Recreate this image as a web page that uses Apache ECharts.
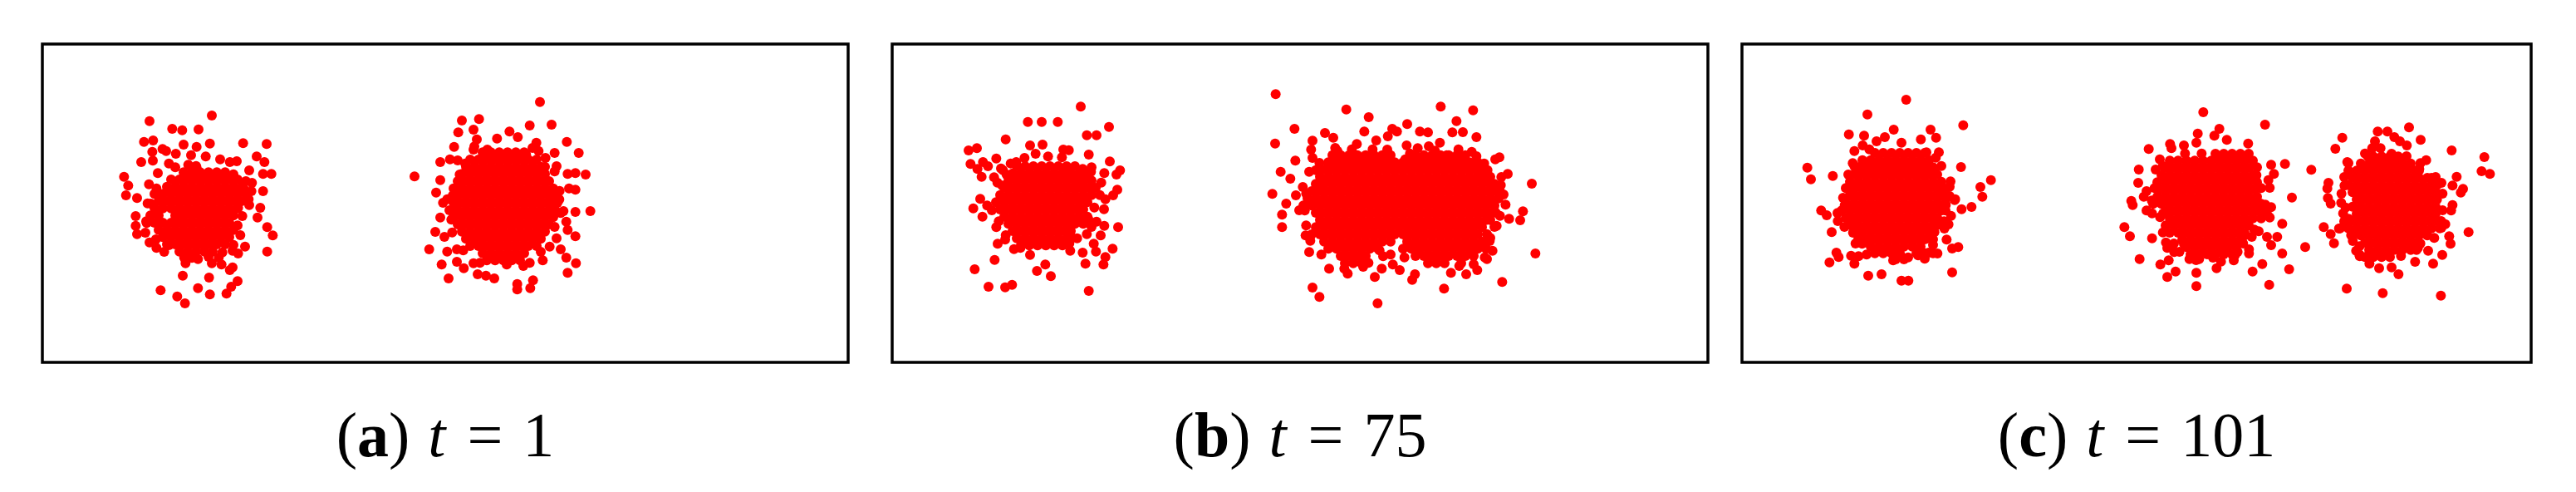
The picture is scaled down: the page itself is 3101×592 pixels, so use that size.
<!DOCTYPE html>
<html><head><meta charset="utf-8">
<script src="https://cdn.jsdelivr.net/npm/echarts@6/dist/echarts.min.js"></script>
<style>html,body{margin:0;padding:0;background:#fff}#c{width:3101px;height:592px}</style>
</head><body><div id="c"></div>
<script>
// Panel captions
const panelLabels = ['a', 'b', 'c'];
const panelTimes = ['1', '75', '101'];

// Point clouds (x to the right, y downwards; 3 units per pixel of each panel)
const aLeft = [
[612,258],[387,278],[469,306],[505,311],[564,308],[367,353],[400,348],[510,363],[605,359],[725,358],[810,361],[557,371],[434,379],[397,389],[447,386],[482,396],[537,401],[590,406],[774,406],[802,426],[357,426],[399,421],[457,431],[642,416],[677,426],[702,423],[527,436],[557,446],[747,456],[797,469],[827,469],[295,479],[417,466],[310,511],[385,506],[412,521],[757,501],[797,531],[302,546],[342,556],[755,531],[727,521],[392,576],[337,621],[707,591],[747,581],[787,591],[337,656],[377,646],[722,621],[777,626],[342,686],[372,681],[812,661],[832,691],[387,716],[412,736],[457,726],[732,731],[812,749],[687,746],[707,756],[512,771],[517,791],[562,776],[612,791],[637,771],[647,796],[677,816],[687,806],[507,836],[602,843],[705,856],[682,876],[427,889],[562,881],[487,911],[515,936],[605,904],[665,901],
[480,445],[555,440],[690,470],[735,495],[380,575],[745,560],[375,640],[705,655],[715,690],[410,705],[690,725],[440,750],[650,752],[540,772],[600,768],
[510,463],[540,463],[570,463],[600,463],[630,463],[660,463],
[465,489],[495,489],[525,489],[555,489],[585,489],[615,489],[645,489],[675,489],[705,489],
[450,515],[480,515],[510,515],[540,515],[570,515],[600,515],[630,515],[660,515],[690,515],[720,515],
[405,541],[435,541],[465,541],[495,541],[525,541],[555,541],[585,541],[615,541],[645,541],[675,541],[705,541],[735,541],
[420,567],[450,567],[480,567],[510,567],[540,567],[570,567],[600,567],[630,567],[660,567],[690,567],[720,567],
[405,593],[435,593],[465,593],[495,593],[525,593],[555,593],[585,593],[615,593],[645,593],[675,593],[705,593],
[390,619],[420,619],[480,619],[510,619],[540,619],[570,619],[600,619],[630,619],[660,619],[690,619],
[405,645],[435,645],[465,645],[495,645],[525,645],[555,645],[585,645],[615,645],[645,645],[675,645],
[420,671],[450,671],[480,671],[510,671],[540,671],[570,671],[600,671],[630,671],[660,671],[690,671],
[435,697],[465,697],[495,697],[525,697],[555,697],[585,697],[615,697],[645,697],[675,697],
[450,723],[480,723],[510,723],[540,723],[570,723],[600,723],[630,723],[660,723],
[495,749],[525,749],[555,749],[585,749],[615,749]
];
const aRight = [
[1797,209],[1515,276],[1577,271],[1502,319],[1557,309],[1569,344],[1760,294],[1839,291],[1894,353],[1937,393],[1487,371],[1437,426],[1472,416],[1344,478],[1850,393],[1784,356],[1792,386],[1962,471],[1925,466],[1897,469],[1902,521],[1925,526],[1979,603],[1925,606],[1882,603],[1437,491],[1422,536],[1447,573],[1437,626],[1477,634],[1419,678],[1452,696],[1397,741],[1462,749],[1442,796],[1497,786],[1522,809],[1467,846],[1572,831],[1602,836],[1632,846],[1715,866],[1715,886],[1772,853],[1762,881],[1897,826],[1927,791],[1892,771],[1872,741],[1892,641],[1897,671],[1925,694],[1832,731],[1497,741],[1687,316],[1717,336],[1642,341],[1557,381],[1607,381],[1507,471],[1527,431],[1747,399],[1817,411],[1857,441],[1867,561],[1857,701],[1807,781],[1737,801],[1677,796],[1557,791],
[1560,370],[1770,375],[1500,420],[1850,460],[1868,530],[1470,600],[1872,610],[1462,560],[1480,680],[1850,660],[1520,745],[1800,750],[1580,790],[1760,790],
[1590,391],[1620,391],[1650,391],[1680,391],[1710,391],[1740,391],
[1545,417],[1575,417],[1605,417],[1635,417],[1665,417],[1695,417],[1725,417],[1755,417],[1785,417],
[1530,443],[1560,443],[1590,443],[1620,443],[1650,443],[1680,443],[1710,443],[1740,443],[1770,443],[1800,443],[1815,443],
[1515,469],[1545,469],[1575,469],[1605,469],[1635,469],[1665,469],[1695,469],[1725,469],[1755,469],[1785,469],[1815,469],
[1500,495],[1530,495],[1560,495],[1590,495],[1620,495],[1650,495],[1680,495],[1710,495],[1740,495],[1770,495],[1800,495],[1830,495],
[1485,521],[1515,521],[1545,521],[1575,521],[1605,521],[1635,521],[1665,521],[1695,521],[1725,521],[1755,521],[1785,521],[1815,521],[1845,521],
[1482,547],[1500,547],[1530,547],[1560,547],[1590,547],[1620,547],[1650,547],[1680,547],[1710,547],[1740,547],[1770,547],[1800,547],[1830,547],[1852,547],
[1485,573],[1515,573],[1545,573],[1575,573],[1605,573],[1635,573],[1665,573],[1695,573],[1725,573],[1755,573],[1785,573],[1815,573],[1845,573],[1860,573],
[1482,599],[1500,599],[1530,599],[1560,599],[1590,599],[1620,599],[1650,599],[1680,599],[1710,599],[1740,599],[1770,599],[1800,599],[1830,599],[1852,599],
[1485,625],[1515,625],[1545,625],[1575,625],[1605,625],[1635,625],[1665,625],[1695,625],[1725,625],[1755,625],[1785,625],[1815,625],[1845,625],
[1500,651],[1530,651],[1560,651],[1590,651],[1620,651],[1650,651],[1680,651],[1710,651],[1740,651],[1770,651],[1800,651],[1830,651],
[1515,677],[1545,677],[1575,677],[1605,677],[1635,677],[1665,677],[1695,677],[1725,677],[1755,677],[1785,677],[1815,677],
[1530,703],[1560,703],[1590,703],[1620,703],[1650,703],[1680,703],[1710,703],[1740,703],[1770,703],[1800,703],
[1545,729],[1575,729],[1605,729],[1635,729],[1665,729],[1695,729],[1725,729],[1755,729],[1785,729],
[1590,755],[1620,755],[1650,755],[1680,755],[1710,755],[1740,755],
[1605,781],[1635,781],[1665,781],[1695,781],[1725,781]
];
const bLeft = [
[681,226],[490,281],[540,281],[598,281],[783,299],[703,329],[738,329],[410,344],[498,366],[543,363],[618,381],[638,383],[710,399],[276,384],[306,376],[376,413],[786,424],[283,433],[328,426],[346,441],[308,451],[323,479],[393,449],[368,481],[823,456],[810,471],[766,466],[718,461],[688,451],[318,559],[293,593],[343,583],[326,623],[376,661],[816,661],[765,596],[798,546],[813,526],[381,721],[408,706],[370,779],[298,813],[348,876],[408,878],[433,869],[523,819],[553,796],[573,838],[710,891],[763,796],[770,769],[796,739],[736,749],[688,753],[698,793],[643,746],[498,761],[463,736],[728,721],[753,691],[703,686],[668,701],[708,631],[738,641],[766,656],[428,431],[448,426],[478,411],[518,396],[563,406],[613,409],[633,459],[668,491],[413,471],[398,511],
[400,455],[720,445],[380,500],[755,500],[770,560],[360,600],[730,590],[385,640],[720,660],[410,690],[650,700],[440,740],[640,720],
[450,441],[480,441],[510,441],[540,441],[570,441],[600,441],[630,441],[660,441],
[435,467],[465,467],[495,467],[525,467],[555,467],[585,467],[615,467],[645,467],[675,467],[705,467],
[420,493],[450,493],[480,493],[510,493],[540,493],[570,493],[600,493],[630,493],[660,493],[690,493],[720,493],
[405,519],[435,519],[465,519],[495,519],[525,519],[555,519],[585,519],[615,519],[645,519],[675,519],[705,519],[735,519],
[390,545],[420,545],[450,545],[480,545],[510,545],[540,545],[570,545],[600,545],[630,545],[660,545],[690,545],[720,545],[750,545],
[375,571],[405,571],[435,571],[465,571],[495,571],[525,571],[555,571],[585,571],[615,571],[645,571],[675,571],[705,571],
[390,597],[420,597],[450,597],[480,597],[510,597],[540,597],[570,597],[600,597],[630,597],[660,597],[690,597],
[405,623],[435,623],[465,623],[495,623],[525,623],[555,623],[585,623],[615,623],[645,623],[675,623],[705,623],
[420,649],[450,649],[480,649],[510,649],[540,649],[570,649],[600,649],[630,649],[660,649],[690,649],
[435,675],[465,675],[495,675],[525,675],[555,675],[585,675],[615,675],[645,675],
[450,701],[480,701],[510,701],[540,701],[570,701],[600,701],[630,701],
[465,727],[495,727],[525,727],[555,727],[585,727],[615,727]
];
const bRight = [
[1385,181],[1640,236],[1721,264],[1981,226],[2098,239],[2038,278],[1860,289],[1806,306],[1823,316],[1906,316],[1935,319],[2023,319],[2061,318],[2110,336],[1453,306],[1563,321],[1593,338],[1705,316],[1748,348],[1790,333],[1678,361],[1858,366],[1383,359],[1518,349],[1513,381],[1608,386],[1518,411],[1543,429],[1456,421],[2093,389],[2193,409],[2178,416],[1403,461],[1506,461],[1438,486],[1483,516],[1536,509],[1373,541],[1458,546],[1423,576],[1408,616],[1490,601],[1408,661],[2310,504],[2223,469],[2198,509],[2208,543],[2278,604],[2268,636],[2228,631],[2183,656],[2148,686],[2158,711],[2168,746],[2148,776],[2113,816],[2073,831],[2048,801],[2018,826],[2203,859],[1993,883],[2323,756],[1878,851],[1888,831],[1833,816],[1808,796],[1768,811],[1743,841],[1773,766],[1701,804],[1645,829],[1633,811],[1578,811],[1506,751],[1493,691],[1518,879],[1543,913],[1753,936],[1818,431],[1788,381],[1853,416],[1898,376],[1938,369],[1978,356],[2003,401],[2068,441],[2138,431],[2118,461],
[1600,375],[1660,380],[1735,380],[1870,395],[1960,385],[2045,380],[2110,405],[1530,455],[2150,455],[1495,540],[2200,480],[2215,580],[1470,600],[2195,620],[1495,655],[2175,660],[1510,710],[2160,700],[1550,760],[1760,745],[1800,760],[1850,770],[2140,770],[1720,790],[2100,795],
[1590,401],[1620,401],[1650,401],[1680,401],[1710,401],[1740,401],[1770,401],[1800,401],[1890,401],[1920,401],[1950,401],[1980,401],[2010,401],[2040,401],[2070,401],
[1575,427],[1605,427],[1635,427],[1665,427],[1695,427],[1725,427],[1755,427],[1785,427],[1815,427],[1845,427],[1875,427],[1905,427],[1935,427],[1965,427],[1995,427],[2025,427],[2055,427],[2085,427],[2115,427],
[1560,453],[1590,453],[1620,453],[1650,453],[1680,453],[1710,453],[1740,453],[1770,453],[1800,453],[1830,453],[1860,453],[1890,453],[1920,453],[1950,453],[1980,453],[2010,453],[2040,453],[2070,453],[2100,453],[2130,453],
[1545,479],[1575,479],[1605,479],[1635,479],[1665,479],[1695,479],[1725,479],[1755,479],[1785,479],[1815,479],[1845,479],[1875,479],[1905,479],[1935,479],[1965,479],[1995,479],[2025,479],[2055,479],[2085,479],[2115,479],[2145,479],[2160,479],
[1530,505],[1560,505],[1590,505],[1620,505],[1650,505],[1680,505],[1710,505],[1740,505],[1770,505],[1800,505],[1830,505],[1860,505],[1890,505],[1920,505],[1950,505],[1980,505],[2010,505],[2040,505],[2070,505],[2100,505],[2130,505],[2160,505],[2175,505],
[1515,531],[1545,531],[1575,531],[1605,531],[1635,531],[1665,531],[1695,531],[1725,531],[1755,531],[1785,531],[1815,531],[1845,531],[1875,531],[1905,531],[1935,531],[1965,531],[1995,531],[2025,531],[2055,531],[2085,531],[2115,531],[2145,531],[2175,531],[2195,531],
[1500,557],[1530,557],[1560,557],[1590,557],[1620,557],[1650,557],[1680,557],[1710,557],[1740,557],[1770,557],[1800,557],[1830,557],[1860,557],[1890,557],[1920,557],[1950,557],[1980,557],[2010,557],[2040,557],[2070,557],[2100,557],[2130,557],[2160,557],[2190,557],
[1485,583],[1515,583],[1545,583],[1575,583],[1605,583],[1635,583],[1665,583],[1695,583],[1725,583],[1755,583],[1785,583],[1815,583],[1845,583],[1875,583],[1905,583],[1935,583],[1965,583],[1995,583],[2025,583],[2055,583],[2085,583],[2115,583],[2145,583],[2175,583],
[1530,609],[1560,609],[1590,609],[1620,609],[1650,609],[1680,609],[1710,609],[1740,609],[1770,609],[1800,609],[1830,609],[1860,609],[1890,609],[1920,609],[1950,609],[1980,609],[2010,609],[2040,609],[2070,609],[2100,609],[2130,609],[2160,609],[2180,609],
[1545,635],[1575,635],[1605,635],[1635,635],[1665,635],[1695,635],[1725,635],[1755,635],[1785,635],[1815,635],[1845,635],[1875,635],[1905,635],[1935,635],[1965,635],[1995,635],[2025,635],[2055,635],[2085,635],[2115,635],[2145,635],[2160,635],
[1530,661],[1560,661],[1590,661],[1620,661],[1650,661],[1680,661],[1710,661],[1740,661],[1770,661],[1800,661],[1830,661],[1860,661],[1890,661],[1920,661],[1950,661],[1980,661],[2010,661],[2040,661],[2070,661],[2100,661],[2130,661],
[1515,687],[1545,687],[1575,687],[1605,687],[1635,687],[1665,687],[1695,687],[1725,687],[1755,687],[1785,687],[1815,687],[1845,687],[1875,687],[1905,687],[1935,687],[1965,687],[1995,687],[2025,687],[2055,687],[2085,687],[2115,687],
[1560,713],[1590,713],[1620,713],[1650,713],[1680,713],[1710,713],[1740,713],[1770,713],[1800,713],[1860,713],[1890,713],[1920,713],[1950,713],[1980,713],[2010,713],[2040,713],[2070,713],[2100,713],[2130,713],
[1575,739],[1605,739],[1635,739],[1665,739],[1695,739],[1725,739],[1755,739],[1845,739],[1875,739],[1905,739],[1935,739],[1965,739],[1995,739],[2025,739],[2055,739],[2085,739],[2115,739],[2145,739],
[1620,765],[1650,765],[1680,765],[1710,765],[1890,765],[1920,765],[1950,765],[1980,765],[2010,765],[2040,765],[2070,765],[2100,765],
[1635,791],[1665,791],[1695,791],[1935,791],[1965,791],[1995,791],[2055,791]
];
const cLeft = [
[593,201],[453,254],[386,326],[441,331],[548,309],[681,309],[799,293],[701,338],[646,344],[576,356],[516,336],[486,351],[406,386],[436,366],[711,391],[666,391],[791,444],[236,446],[249,488],[328,476],[753,496],[899,491],[861,516],[868,551],[768,563],[829,588],[793,596],[286,601],[306,618],[346,639],[324,679],[746,651],[731,666],[739,706],[781,733],[759,738],[341,753],[349,769],[316,788],[394,764],[421,766],[406,793],[456,836],[504,831],[576,854],[601,854],[759,824],[636,763],[674,753],[706,756],[686,706],[546,781],[581,771],[481,746],[434,721],[401,681],[391,641],[371,581],[386,526],[384,471],[406,441],[696,461],[716,541],[736,581],
[460,380],[700,410],[400,430],[720,440],[375,520],[750,515],[365,555],[770,560],[345,610],[755,620],[370,660],[730,640],[410,720],[690,725],[450,760],[600,770],[660,775],
[480,393],[510,393],[540,393],[570,393],[600,393],[630,393],[660,393],
[435,419],[465,419],[495,419],[525,419],[555,419],[585,419],[615,419],[645,419],[675,419],
[420,445],[450,445],[480,445],[510,445],[540,445],[570,445],[600,445],[630,445],[660,445],[690,445],
[405,471],[435,471],[465,471],[495,471],[525,471],[555,471],[585,471],[615,471],[645,471],[675,471],[705,471],
[390,497],[420,497],[450,497],[480,497],[510,497],[540,497],[570,497],[600,497],[630,497],[660,497],[690,497],[720,497],
[405,523],[435,523],[465,523],[495,523],[525,523],[555,523],[585,523],[615,523],[645,523],[675,523],[705,523],[735,523],
[390,549],[420,549],[450,549],[480,549],[510,549],[540,549],[570,549],[600,549],[630,549],[660,549],[690,549],[720,549],[750,549],
[375,575],[405,575],[435,575],[465,575],[495,575],[525,575],[555,575],[585,575],[615,575],[645,575],[675,575],[705,575],[735,575],
[360,601],[390,601],[420,601],[450,601],[480,601],[510,601],[540,601],[570,601],[600,601],[630,601],[660,601],[690,601],[720,601],[735,601],
[375,627],[405,627],[435,627],[465,627],[495,627],[525,627],[555,627],[585,627],[615,627],[645,627],[675,627],[705,627],
[390,653],[420,653],[450,653],[480,653],[510,653],[540,653],[570,653],[600,653],[630,653],[660,653],[690,653],[705,653],
[405,679],[435,679],[465,679],[495,679],[525,679],[555,679],[585,679],[615,679],[645,679],[675,679],[695,679],
[420,705],[450,705],[480,705],[510,705],[540,705],[570,705],[600,705],[630,705],[660,705],[690,705],
[465,731],[495,731],[525,731],[555,731],[585,731],[615,731],[645,731],
[480,755],[510,755],[540,755],[570,755],[630,755],[660,755],[690,755],
[555,777],[585,777]
];
const cMid = [
[1666,246],[1889,291],[1724,306],[1646,323],[1706,331],[1751,346],[1641,356],[1546,361],[1596,366],[1828,359],[1469,379],[1551,376],[1509,416],[1433,453],[1494,453],[1961,433],[1911,436],[1921,469],[1901,491],[2056,454],[1431,501],[1866,519],[1906,519],[1461,531],[1451,551],[1406,566],[1411,581],[1986,554],[1911,589],[1871,576],[1461,601],[1481,611],[1906,626],[1951,649],[1381,661],[1401,694],[1481,701],[1841,696],[1866,676],[1896,696],[1933,696],[1911,726],[1531,716],[1536,736],[1561,751],[1831,741],[1831,756],[2034,733],[1951,756],[1436,776],[1511,796],[1541,781],[1566,821],[1536,841],[1641,826],[1714,809],[1776,781],[1781,761],[1701,771],[1616,776],[1651,776],[1879,794],[1844,821],[1976,813],[1904,869],[1641,874],[1596,721],[1736,731],[1796,716],[1526,561],[1521,611],[1816,691],
[1600,395],[1660,395],[1520,440],[1860,445],[1490,520],[1875,520],[1480,565],[1890,580],[1510,625],[1900,620],[1520,680],[1850,670],[1560,720],[1810,720],[1580,750],[1790,750],[1640,780],[1730,785],
[1710,396],[1740,396],[1770,396],[1800,396],[1830,396],
[1545,421],[1575,421],[1605,421],[1635,421],[1665,421],[1695,421],[1725,421],[1755,421],[1785,421],[1815,421],[1845,421],
[1530,447],[1560,447],[1590,447],[1620,447],[1650,447],[1680,447],[1710,447],[1740,447],[1770,447],[1800,447],[1830,447],
[1515,473],[1545,473],[1575,473],[1605,473],[1635,473],[1665,473],[1695,473],[1725,473],[1755,473],[1785,473],[1815,473],[1845,473],[1858,473],
[1500,499],[1530,499],[1560,499],[1590,499],[1620,499],[1650,499],[1680,499],[1710,499],[1740,499],[1770,499],[1800,499],[1830,499],[1860,499],
[1515,525],[1545,525],[1575,525],[1605,525],[1635,525],[1665,525],[1695,525],[1725,525],[1755,525],[1785,525],[1815,525],[1845,525],
[1500,551],[1530,551],[1560,551],[1590,551],[1620,551],[1650,551],[1680,551],[1710,551],[1740,551],[1770,551],[1800,551],[1830,551],[1860,551],
[1485,577],[1515,577],[1545,577],[1575,577],[1605,577],[1635,577],[1665,577],[1695,577],[1725,577],[1755,577],[1785,577],[1815,577],[1845,577],[1875,577],
[1530,603],[1560,603],[1590,603],[1620,603],[1650,603],[1680,603],[1710,603],[1740,603],[1770,603],[1800,603],[1830,603],[1860,603],[1890,603],
[1545,629],[1575,629],[1605,629],[1635,629],[1665,629],[1695,629],[1725,629],[1755,629],[1785,629],[1815,629],[1845,629],[1875,629],
[1530,655],[1560,655],[1590,655],[1620,655],[1650,655],[1680,655],[1710,655],[1740,655],[1770,655],[1800,655],[1830,655],
[1545,681],[1575,681],[1605,681],[1635,681],[1665,681],[1695,681],[1725,681],[1755,681],[1785,681],[1815,681],
[1590,707],[1620,707],[1650,707],[1680,707],[1710,707],[1740,707],[1770,707],[1800,707],
[1605,733],[1635,733],[1665,733],[1695,733],[1725,733],[1755,733],[1785,733],
[1620,759],[1650,759],[1680,759],[1710,759],[1740,759],[1770,759]
];
const cRight = [
[2409,301],[2296,316],[2331,316],[2168,338],[2451,346],[2143,378],[2563,384],[2681,408],[2671,459],[2701,469],[2581,479],[2186,426],[2276,376],[2306,376],[2356,336],[2471,419],[2346,396],[2118,501],[2114,521],[2116,556],[2126,576],[2164,573],[2176,511],[2171,611],[2191,631],[2101,661],[2126,686],[2138,719],[2566,511],[2596,536],[2604,523],[2566,581],[2561,601],[2501,601],[2526,501],[2624,679],[2554,694],[2559,721],[2526,663],[2478,746],[2529,761],[2496,793],[2431,786],[2346,806],[2371,831],[2301,809],[2266,793],[2231,766],[2218,746],[2184,883],[2314,899],[2524,908],[2441,736],[2396,731],[2206,711],[2156,666],[2261,406],[2286,351],[2376,351],[2401,366],[2446,451],
[2250,395],[2400,405],[2190,430],[2450,430],[2175,480],[2505,480],[2165,540],[2530,540],[2180,590],[2530,600],[2175,640],[2540,650],[2200,690],[2500,700],[2230,730],[2450,720],[2230,760],[2380,765],
[2280,406],[2310,406],[2340,406],[2370,406],
[2235,431],[2265,431],[2295,431],[2325,431],[2355,431],[2385,431],[2415,431],
[2190,457],[2220,457],[2250,457],[2280,457],[2310,457],[2340,457],[2370,457],[2400,457],[2430,457],[2445,457],
[2205,483],[2235,483],[2265,483],[2295,483],[2325,483],[2355,483],[2385,483],[2415,483],[2445,483],[2475,483],[2490,483],
[2190,509],[2220,509],[2250,509],[2280,509],[2310,509],[2340,509],[2370,509],[2400,509],[2430,509],[2460,509],[2490,509],[2510,509],
[2205,535],[2235,535],[2265,535],[2295,535],[2325,535],[2355,535],[2385,535],[2415,535],[2445,535],[2475,535],[2505,535],
[2220,561],[2250,561],[2280,561],[2310,561],[2340,561],[2370,561],[2400,561],[2430,561],[2460,561],[2490,561],[2510,561],
[2205,587],[2235,587],[2265,587],[2295,587],[2325,587],[2355,587],[2385,587],[2415,587],[2445,587],[2475,587],[2505,587],
[2220,613],[2250,613],[2280,613],[2310,613],[2340,613],[2370,613],[2400,613],[2430,613],[2460,613],[2490,613],[2505,613],
[2205,639],[2235,639],[2265,639],[2295,639],[2325,639],[2355,639],[2385,639],[2415,639],[2445,639],[2475,639],[2505,639],[2525,639],
[2160,665],[2190,665],[2220,665],[2250,665],[2280,665],[2310,665],[2340,665],[2370,665],[2400,665],[2430,665],[2460,665],[2490,665],[2520,665],
[2205,691],[2235,691],[2265,691],[2295,691],[2325,691],[2355,691],[2385,691],[2415,691],[2445,691],[2475,691],
[2250,717],[2280,717],[2310,717],[2340,717],[2370,717],[2400,717],[2430,717],
[2265,743],[2295,743],[2325,743],[2355,743],[2385,743],[2415,743],[2436,743],
[2250,769],[2280,769],[2310,769],[2340,769]
];

const panelSeries = [[aLeft, aRight], [bLeft, bRight], [cLeft, cMid, cRight]];

const grids = [
  {left: 51, top: 53, width: 970, height: 383},
  {left: 1074, top: 53, width: 982, height: 383},
  {left: 2097, top: 53, width: 950, height: 383}
];
const unitsPerPx = 3;

const FONT = '"Liberation Serif", "DejaVu Serif", serif';
const option = {
  animation: false,
  backgroundColor: '#fff',
  grid: grids.map(g => Object.assign({show: true, borderColor: '#000', borderWidth: 3.5, backgroundColor: 'transparent'}, g)),
  xAxis: grids.map((g, i) => ({type: 'value', gridIndex: i, min: 0, max: g.width * unitsPerPx, show: false})),
  yAxis: grids.map((g, i) => ({type: 'value', gridIndex: i, min: 0, max: g.height * unitsPerPx, inverse: true, show: false})),
  title: grids.map((g, i) => ({
    text: '{p|(}{b|' + panelLabels[i] + '}{p|)}{i|t}{e|=}{n|' + panelTimes[i] + '}',
    left: g.left + g.width / 2,
    top: 491,
    padding: 0,
    textAlign: 'center',
    textStyle: {
      fontFamily: FONT, fontSize: 76, fontWeight: 'normal', color: '#000',
      rich: {
        p: {fontFamily: FONT, fontSize: 76, color: '#000'},
        b: {fontFamily: FONT, fontSize: 76, fontWeight: 'bold', color: '#000'},
        i: {fontFamily: FONT, fontSize: 76, fontStyle: 'italic', color: '#000', padding: [0, 26, 0, 22]},
        e: {fontFamily: FONT, fontSize: 76, color: '#000', padding: [0, 24, 0, 0]},
        n: {fontFamily: FONT, fontSize: 76, color: '#000'}
      }
    }
  })),
  series: []
};
panelSeries.forEach((list, i) => {
  list.forEach(pts => {
    option.series.push({
      type: 'scatter', xAxisIndex: i, yAxisIndex: i, data: pts,
      symbol: 'circle', symbolSize: 12, silent: true,
      itemStyle: {color: '#ff0000', opacity: 1}
    });
  });
});
const chart = echarts.init(document.getElementById('c'), null, {renderer: 'canvas'});
chart.setOption(option);
</script>
</body></html>
